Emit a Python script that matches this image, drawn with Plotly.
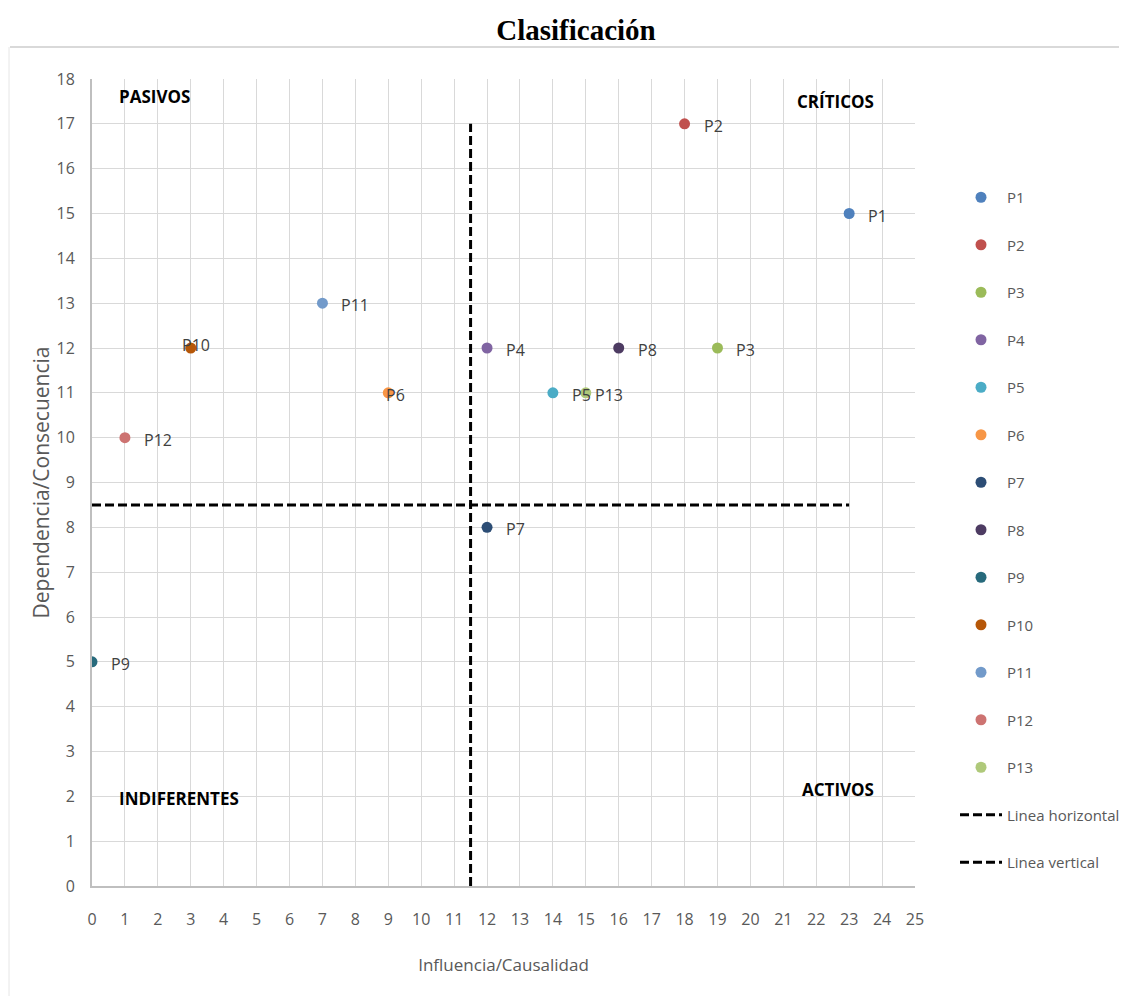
import plotly.graph_objects as go

# ---- data ----
names = ["P1", "P2", "P3", "P4", "P5", "P6", "P7", "P8", "P9", "P10", "P11", "P12", "P13"]
influencia = [23, 18, 19, 12, 14, 9, 12, 16, 0, 3, 7, 1, 15]
dependencia = [15, 17, 12, 12, 11, 11, 8, 12, 5, 12, 13, 10, 11]
colors = ["#4F81BD", "#C0504D", "#9BBB59", "#8064A2", "#4BACC6", "#F79646", "#2C4D75",
          "#4D3B62", "#276A7C", "#B65708", "#729ACA", "#CD7371", "#AFC97A"]

hline_x = [0, 23]
hline_y = [8.5, 8.5]
vline_x = [11.5, 11.5]
vline_y = [0, 17]

quad_labels = ["PASIVOS", "CRÍTICOS", "INDIFERENTES", "ACTIVOS"]
quad_x = [1.9, 22.6, 2.65, 22.65]
quad_y = [17.6, 17.5, 1.95, 2.15]

x_ticks = list(range(0, 26))
y_ticks = list(range(0, 19))

FONT = "Open Sans"
GRAY = "#595959"

fig = go.Figure()

for i, n in enumerate(names):
    fig.add_trace(go.Scatter(
        x=[influencia[i]], y=[dependencia[i]], mode="markers", name=n,
        marker=dict(color=colors[i], size=11, symbol="circle"),
        legendgroup=n, showlegend=True,
    ))

fig.add_trace(go.Scatter(x=hline_x, y=hline_y, mode="lines", name="Linea horizontal",
                         line=dict(color="black", width=3, dash="9px,4px"),
                         legendgroup="lh"))
fig.add_trace(go.Scatter(x=vline_x, y=vline_y, mode="lines", name="Linea vertical",
                         line=dict(color="black", width=3, dash="9px,4px"),
                         legendgroup="lv"))

# data labels
annotations = []
for i, n in enumerate(names):
    xa, xs, ys = "left", 17, -2
    if n == "P10":
        xa, xs, ys = "center", 5, 3
    elif n == "P6":
        xa, xs, ys = "left", -4, -2
    elif n == "P13":
        xa, xs, ys = "left", 7, -2
    annotations.append(dict(x=influencia[i], y=dependencia[i], text=n, showarrow=False,
                            xanchor=xa, xshift=xs, yshift=ys,
                            font=dict(family=FONT, size=16, color="#404040")))

for t, qx, qy in zip(quad_labels, quad_x, quad_y):
    annotations.append(dict(x=qx, y=qy, text="<b>" + t + "</b>", showarrow=False,
                            font=dict(family=FONT, size=17, color="black")))

# page offset (body margin 8px)
OFF = 8
W, H = 1111, 988
L, R, T, B = 92 - OFF, 915 - OFF, 79 - OFF, 886 - OFF
pw, ph = R - L, B - T
def px(xp):
    return (xp - OFF - L) / pw
def py(yp):
    return (B - (yp - OFF)) / ph

shapes = [
    dict(type="line", xref="paper", yref="paper", x0=px(10), x1=px(1127), y0=py(47), y1=py(47),
         line=dict(color="#D9D9D9", width=2)),
    dict(type="line", xref="paper", yref="paper", x0=px(9), x1=px(9), y0=py(47), y1=py(1004),
         line=dict(color="#E6E6E6", width=1)),
]

fig.update_layout(
    width=W, height=H,
    margin=dict(l=L, r=W - R, t=T, b=H - B, autoexpand=False),
    paper_bgcolor="white", plot_bgcolor="white",
    title=dict(text="<b>Clasificación</b>", x=(576 - OFF) / W, xanchor="center", y=1 - (30 - OFF) / H,
               yanchor="middle", font=dict(family="Liberation Serif", size=29, color="black")),
    font=dict(family=FONT, color=GRAY),
    legend=dict(x=px(955), y=py(181), xanchor="left", yanchor="top",
                font=dict(family=FONT, size=15, color=GRAY),
                tracegroupgap=25, itemwidth=42, bgcolor="rgba(0,0,0,0)"),
    annotations=annotations,
    shapes=shapes,
    showlegend=True,
)

fig.update_xaxes(range=[0, 25], tickvals=x_ticks, showgrid=True, gridcolor="#D9D9D9", gridwidth=1.2,
                 showline=True, linecolor="#BFBFBF", linewidth=2, zeroline=False, automargin=False,
                 ticks="", tickfont=dict(family=FONT, size=16, color=GRAY), ticklabelstandoff=18,
                 title=dict(text="Influencia/Causalidad", font=dict(family=FONT, size=17, color=GRAY),
                            standoff=30),
                 mirror=False)
fig.update_yaxes(range=[0, 18], tickvals=y_ticks, showgrid=True, gridcolor="#D9D9D9", gridwidth=1.2,
                 showline=True, linecolor="#BFBFBF", linewidth=2, zeroline=False, automargin=False,
                 ticks="", tickfont=dict(family=FONT, size=16, color=GRAY), ticklabelstandoff=12,
                 title=dict(text="Dependencia/Consecuencia", font=dict(family=FONT, size=21, color=GRAY),
                            standoff=1))

fig.write_html("out.html")
